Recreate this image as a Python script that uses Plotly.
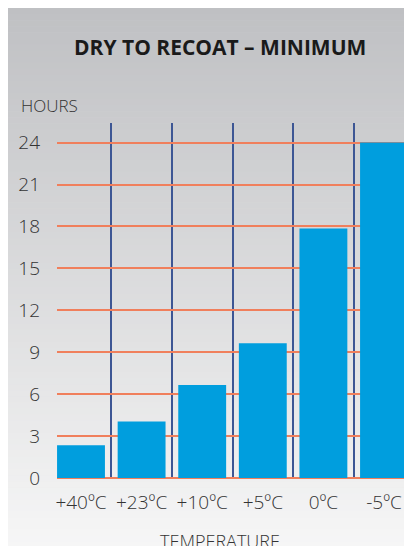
import plotly.graph_objects as go

categories = ["+40ºC", "+23ºC", "+10ºC", "+5ºC", "0ºC", "-5ºC"]
hours = [2.35, 4.05, 6.65, 9.65, 17.85, 24.0]
y_ticks = [0, 3, 6, 9, 12, 15, 18, 21, 24]

W, H = 412, 546
L, R, T, B = 49, 0, 115, 76
ph = H - T - B
pw = W - L - R

def fy(p):
    return (H - B - p) / ph

def fx(p):
    return (p - L) / pw

top_rgb = (191, 192, 195)
bot_rgb = (247, 247, 247)
n = 90
shapes = []
for i in range(n):
    a = H * i / n
    b = H * (i + 1) / n + 0.6
    t = (i + 0.5) / n
    c = tuple(round(top_rgb[k] + (bot_rgb[k] - top_rgb[k]) * t) for k in range(3))
    shapes.append(dict(type="rect", xref="paper", yref="paper",
                       x0=fx(-2), x1=fx(W + 2),
                       y0=fy(b), y1=fy(a),
                       line=dict(width=0), fillcolor="rgb(%d,%d,%d)" % c,
                       layer="below"))

fig = go.Figure(go.Bar(x=categories, y=hours, marker=dict(color="#009ede", line=dict(width=0)),
                       width=0.79))

font_fam = "Open Sans, Noto Sans, sans-serif"
fig.update_layout(
    width=W, height=H,
    margin=dict(l=L, r=R, t=T, b=B, pad=0),
    paper_bgcolor="rgb(220,220,222)", plot_bgcolor="rgba(0,0,0,0)",
    shapes=shapes,
    showlegend=False,
    font=dict(family=font_fam, color="#333333"),
    annotations=[
        dict(text="<b>DRY TO RECOAT – MINIMUM</b>", xref="paper", yref="paper",
             x=fx(212), y=fy(39), xanchor="center", yanchor="middle",
             showarrow=False, font=dict(size=21, color="#1a1a1a", family=font_fam)),
        dict(text="HOURS", xref="paper", yref="paper",
             x=fx(11), y=fy(97), xanchor="left", yanchor="middle",
             showarrow=False, font=dict(size=17, color="#333333", family=font_fam, weight=300)),
        dict(text="TEMPERATURE", xref="paper", yref="paper",
             x=fx(212), y=fy(533), xanchor="center", yanchor="middle",
             showarrow=False, font=dict(size=18, color="#333333", family=font_fam, weight=300)),
    ],
)
fig.update_xaxes(type="category", range=[-0.396, 5.594], showgrid=True,
                 tickson="boundaries", gridcolor="#3d5694", gridwidth=2,
                 showline=False, zeroline=False, ticks="",
                 tickfont=dict(size=19, color="#333333", weight=300), ticklabelstandoff=11)
fig.update_yaxes(range=[0, 25.4], tickvals=y_ticks, showgrid=True,
                 gridcolor="#f07f5c", gridwidth=2, zeroline=True,
                 zerolinecolor="#f07f5c", zerolinewidth=2, showline=False, ticks="",
                 tickfont=dict(size=19, color="#333333", weight=300), ticklabelstandoff=16)

fig.write_html("out.html")
